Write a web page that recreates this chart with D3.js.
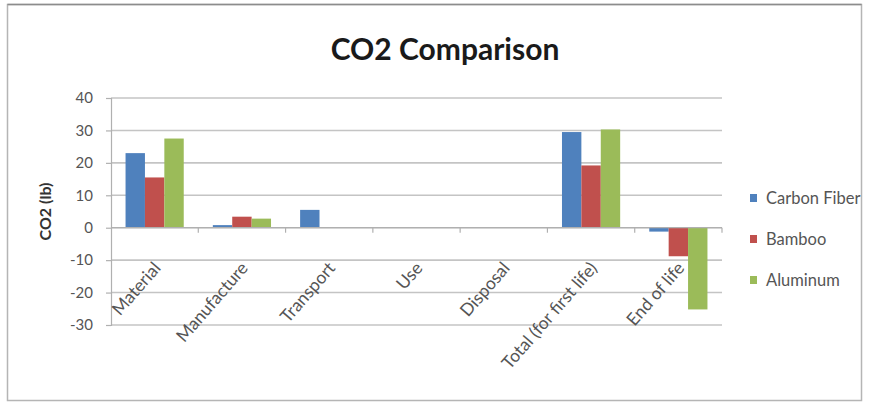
<!DOCTYPE html>
<html>
<head>
<meta charset="utf-8">
<script src="https://cdn.jsdelivr.net/npm/d3@7"></script>
<style>
  html, body { margin: 0; padding: 0; background: #ffffff; }
  svg { display: block; font-family: Lato, "Open Sans", sans-serif; }
</style>
</head>
<body>
<svg id="chart" width="871" height="403"></svg>
<script>
// Life-cycle stages and CO2 per stage (lb) for each frame material
const categories = ["Material", "Manufacture", "Transport", "Use", "Disposal", "Total (for first life)", "End of life"];
const seriesNames = ["Carbon Fiber", "Bamboo", "Aluminum"];
const carbonFiber = [23, 0.8, 5.5, 0, 0, 29.5, -1.2];
const bamboo      = [15.5, 3.4, 0, 0, 0, 19.2, -8.8];
const aluminum    = [27.5, 2.8, 0, 0, 0, 30.3, -25.2];
const yTicks = [-30, -20, -10, 0, 10, 20, 30, 40];
const colors = ["#4F81BD", "#C0504D", "#9BBB59"];

const seriesValues = [carbonFiber, bamboo, aluminum];

const svg = d3.select("#chart");

// outer chart frame
svg.append("rect")
  .attr("x", 7.5).attr("y", 4.5)
  .attr("width", 854).attr("height", 396)
  .attr("fill", "#ffffff")
  .attr("stroke", "#b5b5b5").attr("stroke-width", 1.5);
svg.append("line")
  .attr("x1", 7.5).attr("x2", 861.5).attr("y1", 4.5).attr("y2", 4.5)
  .attr("stroke", "#8c8c8c").attr("stroke-width", 1.5);

const plot = { left: 111, right: 722, top: 98, bottom: 325 };

const y = d3.scaleLinear().domain([-30, 40]).range([plot.bottom, plot.top]);
const x = d3.scaleBand().domain(categories).range([plot.left, plot.right]).paddingInner(0).paddingOuter(0);

// Excel-style clustered bars: gap width 150%
const barW = x.bandwidth() / (seriesNames.length + 1.5);
const groupOffset = barW * 0.75;
const xs = d3.scaleBand().domain(seriesNames).range([groupOffset, groupOffset + barW * seriesNames.length]);

// horizontal gridlines
svg.append("g")
  .selectAll("line")
  .data(yTicks)
  .join("line")
  .attr("x1", plot.left).attr("x2", plot.right)
  .attr("y1", d => y(d)).attr("y2", d => y(d))
  .attr("stroke", "#c4c4c4").attr("stroke-width", 1.6);

// value axis
const yAxis = svg.append("g")
  .attr("transform", `translate(${plot.left},0)`)
  .call(d3.axisLeft(y).tickValues(yTicks).tickSize(5).tickPadding(13).tickFormat(d => String(d)));
yAxis.select(".domain").attr("stroke", "#b0b0b0").attr("stroke-width", 1.2);
yAxis.selectAll(".tick line").attr("stroke", "#b0b0b0").attr("stroke-width", 1.2);
yAxis.selectAll(".tick text")
  .attr("font-size", 15).attr("fill", "#555555")
  .attr("font-family", "Lato, 'Open Sans', sans-serif");

// bars
const groups = svg.append("g")
  .selectAll("g")
  .data(categories)
  .join("g")
  .attr("transform", d => `translate(${x(d)},0)`);

groups.selectAll("rect")
  .data((c, i) => seriesNames.map((s, k) => ({ s, v: seriesValues[k][i], k })))
  .join("rect")
  .attr("x", d => xs(d.s))
  .attr("width", xs.bandwidth())
  .attr("y", d => y(Math.max(0, d.v)))
  .attr("height", d => Math.abs(y(d.v) - y(0)))
  .attr("fill", d => colors[d.k]);

// category axis at zero
const xAxis = svg.append("g")
  .attr("transform", `translate(0,${y(0)})`);
xAxis.append("line")
  .attr("x1", plot.left).attr("x2", plot.right)
  .attr("stroke", "#b0b0b0").attr("stroke-width", 1.2);
xAxis.selectAll("line.tick")
  .data(categories)
  .join("line")
  .attr("class", "tick")
  .attr("x1", d => x(d) + x.bandwidth()).attr("x2", d => x(d) + x.bandwidth())
  .attr("y1", 0).attr("y2", 5)
  .attr("stroke", "#b0b0b0").attr("stroke-width", 1.2);

// rotated category labels
svg.append("g")
  .selectAll("text")
  .data(categories)
  .join("text")
  .attr("transform", d => `translate(${x(d) + x.bandwidth() / 2 + 7},${y(0) + 41}) rotate(-49)`)
  .attr("text-anchor", "end")
  .attr("font-size", 17.5)
  .attr("fill", "#555555")
  .text(d => d);

// value axis title
svg.append("text")
  .attr("transform", `translate(51,${(plot.top + plot.bottom) / 2}) rotate(-90)`)
  .attr("text-anchor", "middle")
  .attr("font-size", 16)
  .attr("font-weight", "bold")
  .attr("fill", "#333333")
  .text("CO2 (lb)");

// chart title
svg.append("text")
  .attr("x", 445).attr("y", 60)
  .attr("text-anchor", "middle")
  .attr("font-size", 30)
  .attr("font-weight", "bold")
  .attr("fill", "#1a1a1a")
  .text("CO2 Comparison");

// legend
const legend = svg.append("g")
  .selectAll("g")
  .data(seriesNames)
  .join("g")
  .attr("transform", (d, i) => `translate(750,${198 + i * 41})`);
legend.append("rect")
  .attr("x", 0).attr("y", -4)
  .attr("width", 7).attr("height", 8)
  .attr("fill", (d, i) => colors[i]);
legend.append("text")
  .attr("x", 16).attr("y", 6)
  .attr("font-size", 16.5)
  .attr("fill", "#555555")
  .text(d => d);
</script>
</body>
</html>
